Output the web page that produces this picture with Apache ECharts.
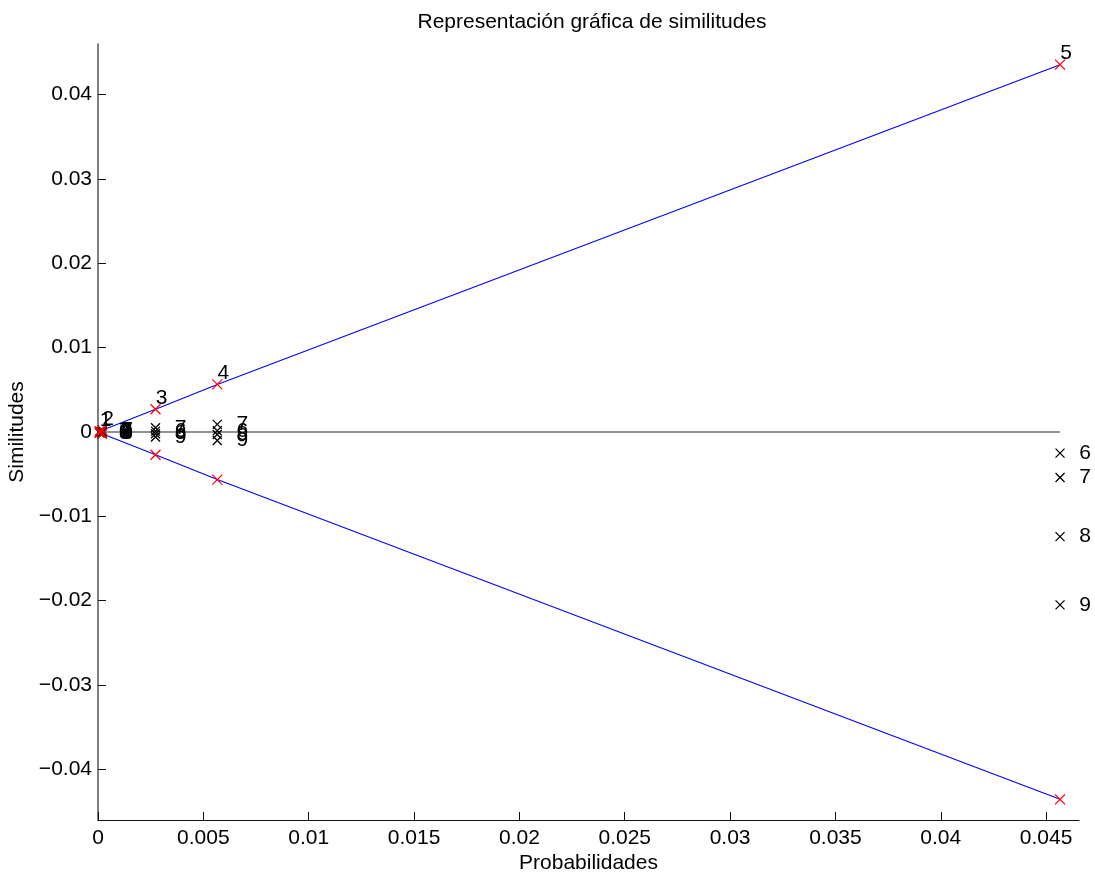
<!DOCTYPE html>
<html>
<head>
<meta charset="utf-8">
<script src="https://cdn.jsdelivr.net/npm/echarts@6/dist/echarts.min.js"></script>
<style>
  html, body { margin: 0; padding: 0; background: #fff; }
  #chart { width: 1095px; height: 876px; }
</style>
</head>
<body>
<div id="chart"></div>
<script>
// Probabilities of the five labelled cases (x) and their similitude bounds (±y)
const probabilidades = [0.00008, 0.00020, 0.00273, 0.00566, 0.04566];
const similitudSup   = [0.00008, 0.00020, 0.00270, 0.00564, 0.04355];
const similitudInf   = [-0.00008, -0.00020, -0.00270, -0.00564, -0.04355];
const etiquetasCaso  = ['1', '2', '3', '4', '5'];

// Digit similitudes measured at each probability
const digitos = ['6', '7', '8', '9'];
const simDigitos = [
  [0.00000, 0.00010, -0.00005, -0.00010],
  [0.00005, 0.00020, -0.00010, -0.00020],
  [0.00010, 0.00050, -0.00020, -0.00060],
  [0.00015, 0.00090, -0.00030, -0.00100],
  [-0.00250, -0.00540, -0.01240, -0.02050]
];

// Axis tick values
const ticksX = [0, 0.005, 0.01, 0.015, 0.02, 0.025, 0.03, 0.035, 0.04, 0.045];
const ticksY = [-0.04, -0.03, -0.02, -0.01, 0, 0.01, 0.02, 0.03, 0.04];

const FONT = 'Liberation Sans';
const FS = 21;
const cruz = 'path://M0,0L10,10M10,0L0,10';

const fmtNum = v => {
  if (Math.abs(v) < 1e-12) return '0';
  const s = String(parseFloat(Math.abs(v).toPrecision(6)));
  return (v < 0 ? '\u2212' : '') + s;
};

const zip = (xs, ys) => xs.map((x, i) => [x, ys[i]]);

const puntosNegros = [];
probabilidades.forEach((p, i) => {
  simDigitos[i].forEach((s, j) => puntosNegros.push({ value: [p, s], name: digitos[j] }));
});

const chart = echarts.init(document.getElementById('chart'), null, { renderer: 'canvas' });

chart.setOption({
  animation: false,
  backgroundColor: '#ffffff',
  title: {
    text: 'Representación gráfica de similitudes',
    left: 587, top: 7, textAlign: 'center',
    textStyle: { fontFamily: FONT, fontSize: FS, fontWeight: 'normal', color: '#000' }
  },
  grid: { left: 98, right: 16, top: 44, bottom: 56, containLabel: false, outerBoundsMode: 'none' },
  xAxis: {
    type: 'value', min: 0, max: 0.04656,
    name: 'Probabilidades', nameLocation: 'middle', nameGap: 33, nameMoveOverlap: false,
    nameTextStyle: { fontFamily: FONT, fontSize: FS, color: '#000' },
    splitLine: { show: false },
    axisLine: { show: true, onZero: false, lineStyle: { color: '#111', width: 1.2 } },
    axisTick: { show: true, inside: true, length: 8, customValues: ticksX, lineStyle: { color: '#111' } },
    axisLabel: { customValues: ticksX, margin: 8, formatter: fmtNum,
      fontFamily: FONT, fontSize: FS, color: '#000' }
  },
  yAxis: {
    type: 'value', min: -0.046, max: 0.046,
    name: 'Similitudes', nameLocation: 'middle', nameGap: 70, nameMoveOverlap: false,
    nameTextStyle: { fontFamily: FONT, fontSize: FS, color: '#000' },
    splitLine: { show: false },
    axisLine: { show: true, onZero: false, lineStyle: { color: '#555', width: 1.5 } },
    axisTick: { show: true, inside: true, length: 8, customValues: ticksY, lineStyle: { color: '#111' } },
    axisLabel: { customValues: ticksY, margin: 6, formatter: fmtNum,
      fontFamily: FONT, fontSize: FS, color: '#000' }
  },
  series: [
    {
      // reference line at zero similitude
      type: 'line', silent: true, showSymbol: false,
      data: [[0, 0], [probabilidades[probabilidades.length - 1], 0]],
      lineStyle: { color: '#6e6e6e', width: 1.5 }, z: 1
    },
    {
      type: 'line', silent: true, showSymbol: false,
      data: [[0, 0]].concat(zip(probabilidades, similitudSup)),
      lineStyle: { color: '#0000ff', width: 1.1 }, z: 2
    },
    {
      type: 'line', silent: true, showSymbol: false,
      data: [[0, 0]].concat(zip(probabilidades, similitudInf)),
      lineStyle: { color: '#0000ff', width: 1.1 }, z: 2
    },
    {
      type: 'scatter', symbol: cruz, symbolSize: 9,
      data: puntosNegros,
      itemStyle: { color: 'rgba(0,0,0,0)', borderColor: '#000', borderWidth: 1.3, opacity: 1 },
      label: { show: true, position: 'right', distance: 14, formatter: p => p.name,
        fontFamily: FONT, fontSize: FS, color: '#000' },
      emphasis: { disabled: true },
      z: 3
    },
    {
      type: 'scatter', symbol: cruz, symbolSize: 10,
      data: zip(probabilidades, similitudSup).map((v, i) => ({ value: v, name: etiquetasCaso[i] })),
      itemStyle: { color: 'rgba(0,0,0,0)', borderColor: '#ff0000', borderWidth: 1.2, opacity: 1 },
      label: { show: true, position: 'top', distance: 0, offset: [6, 5], formatter: p => p.name,
        fontFamily: FONT, fontSize: FS, color: '#000' },
      emphasis: { disabled: true },
      z: 4
    },
    {
      type: 'scatter', symbol: cruz, symbolSize: 10,
      data: zip(probabilidades, similitudInf),
      itemStyle: { color: 'rgba(0,0,0,0)', borderColor: '#ff0000', borderWidth: 1.2, opacity: 1 },
      emphasis: { disabled: true },
      z: 4
    }
  ]
});
</script>
</body>
</html>
